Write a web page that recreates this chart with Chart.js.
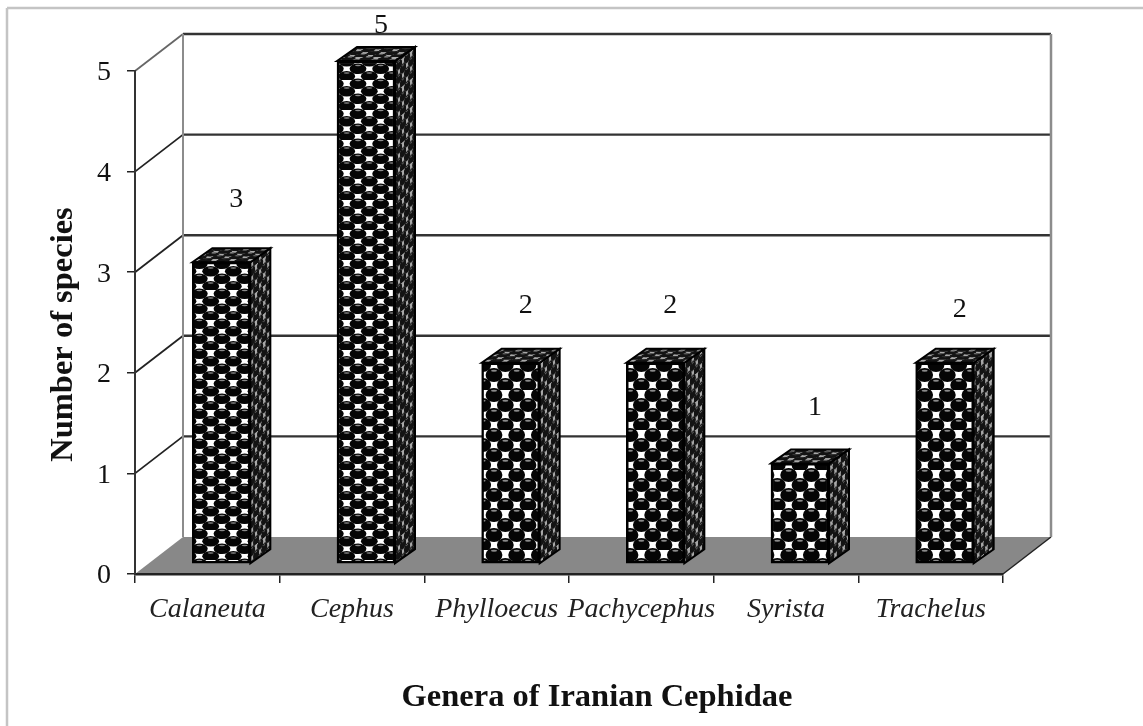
<!DOCTYPE html>
<html>
<head>
<meta charset="utf-8">
<style>
  html, body { margin: 0; padding: 0; background: #fff; }
  #wrap { position: relative; width: 1143px; height: 726px; }
  /* the reference is a soft scan */
  canvas { filter: blur(0.5px); }
</style>
<script src="https://cdn.jsdelivr.net/npm/chart.js@4"></script>
</head>
<body>
<div id="wrap"><canvas id="chart" width="1143" height="726"></canvas></div>
<script>
const GENERA = ["Calaneuta", "Cephus", "Phylloecus", "Pachycephus", "Syrista", "Trachelus"];
const SPECIES = [3, 5, 2, 2, 1, 2];
const Y_TICKS = [0, 1, 2, 3, 4, 5];
const X_TITLE = "Genera of Iranian Cephidae";
const Y_TITLE = "Number of species";

// how far each number floats above its bar
const LABEL_LIFT = [63, 35, 57, 57, 56, 53];

const SERIF = "'Liberation Serif', 'Times New Roman', serif";
const WALL = { dx: 48, dy: -37 };    // back wall offset from the front plane
const BAR_SHIFT = { dx: 14, dy: -10 }; // bars stand in the middle of the floor
const BAR_DEPTH = { dx: 20, dy: -14 };

// ── Bar fill ────────────────────────────────────────────────────────────

// staggered black balls on white, rowH is stretched with the bar like Excel does
function ballPattern(rowH) {
  const colW = 68 / 3;
  const c = document.createElement("canvas");
  c.width = 68;
  c.height = Math.round(rowH * 4);
  const g = c.getContext("2d");
  g.fillStyle = "#fff";
  g.fillRect(0, 0, c.width, c.height);
  const rows = [0, 1, 2, 3, 4];
  rows.forEach(r => {
    for (let i = -1; i < 5; i++) {
      const x = (i + (r % 2 ? 0.5 : 0)) * colW + 4;
      const y = r * c.height / 4 + rowH / 2;
      g.fillStyle = "#050505";
      g.beginPath();
      g.ellipse(x, y, 8.4, rowH * 0.7, 0, 0, Math.PI * 2);
      g.fill();
      g.fillStyle = "#8a8a8a";
      g.beginPath();
      g.ellipse(x, y - rowH * 0.42, 3, rowH * 0.1, 0, 0, Math.PI * 2);
      g.fill();
    }
  });
  return document.getElementById("chart").getContext("2d").createPattern(c, "repeat");
}

const tightBalls = ballPattern(7.5);
const looseBalls = ballPattern(10);
const sideBalls = ballPattern(7);
sideBalls.setTransform(new DOMMatrix([0.36, -0.3, 0, 1, 0, 0]));
const topBalls = ballPattern(7);
topBalls.setTransform(new DOMMatrix([0.8, 0, -0.5, 0.4, 0, 0]));

// ── 3D box drawn from the scales ─────────────────────────────────────────

function line(ctx, x1, y1, x2, y2, color, width) {
  ctx.strokeStyle = color;
  ctx.lineWidth = width;
  ctx.beginPath();
  ctx.moveTo(x1, y1);
  ctx.lineTo(x2, y2);
  ctx.stroke();
}

function poly(ctx, pts, fill, stroke, width) {
  ctx.beginPath();
  pts.forEach((p, i) => i ? ctx.lineTo(p[0], p[1]) : ctx.moveTo(p[0], p[1]));
  ctx.closePath();
  ctx.fillStyle = fill;
  ctx.fill();
  if (stroke) {
    ctx.strokeStyle = stroke;
    ctx.lineWidth = width;
    ctx.stroke();
  }
}

const walls = {
  id: "walls",
  beforeDraw(chart) {
    const { ctx, chartArea: a, scales: { y } } = chart;
    const { dx, dy } = WALL;
    ctx.save();
    // picture frame
    line(ctx, 7, 8, 1143, 8, "#c4c4c4", 2.5);
    line(ctx, 7, 8, 7, 726, "#c4c4c4", 2.5);
    // floor
    poly(ctx, [[a.left, a.bottom], [a.left + dx, a.bottom + dy], [a.right + dx, a.bottom + dy], [a.right, a.bottom]], "#888888");
    line(ctx, a.right, a.bottom, a.right + dx, a.bottom + dy, "#222", 1.5);
    // grid on back and left wall
    Y_TICKS.forEach(v => {
      const py = y.getPixelForValue(v);
      if (v > 0) line(ctx, a.left + dx, py + dy, a.right + dx, py + dy, "#333", 2.4);
      if (v > 0) line(ctx, a.left, py, a.left + dx, py + dy, v === 5 ? "#666" : "#222", 1.8);
    });
    line(ctx, a.left + dx, a.top + dy, a.left + dx, a.bottom + dy, "#8c8c8c", 2);
    line(ctx, a.right + dx, a.top + dy, a.right + dx, a.bottom + dy, "#8c8c8c", 2.5);
    ctx.restore();
  },
  beforeDatasetDraw(chart, args) {
    const { ctx } = chart;
    ctx.save();
    ctx.translate(BAR_SHIFT.dx, BAR_SHIFT.dy);
    const { dx, dy } = BAR_DEPTH;
    args.meta.data.forEach(bar => {
      const l = bar.x - bar.width / 2, r = bar.x + bar.width / 2;
      const t = bar.y, b = bar.base;
      const side = [[r, t], [r + dx, t + dy], [r + dx, b + dy], [r, b]];
      const lid = [[l, t], [l + dx, t + dy], [r + dx, t + dy], [r, t]];
      poly(ctx, side, sideBalls);
      poly(ctx, side, "rgba(40,40,40,0.4)", "#000", 2);
      poly(ctx, lid, topBalls);
      poly(ctx, lid, "rgba(40,40,40,0.4)", "#000", 2);
    });
  },
  afterDatasetDraw(chart) {
    chart.ctx.restore();
  },
  afterDatasetsDraw(chart) {
    const { ctx, scales: { x, y } } = chart;
    ctx.save();
    ctx.fillStyle = "#111";
    ctx.textAlign = "center";
    ctx.textBaseline = "middle";
    ctx.font = "28px " + SERIF;
    chart.getDatasetMeta(0).data.forEach((bar, i) => {
      ctx.fillText(SPECIES[i], bar.x + 29, bar.y + BAR_SHIFT.dy - LABEL_LIFT[i]);
    });
    // axis titles sit off the scale centres in the original
    ctx.font = "bold 32.5px " + SERIF;
    ctx.fillText(X_TITLE, x.getPixelForValue(2.5) + 28, 698);
    ctx.translate(64, y.getPixelForValue(2.5) + 12);
    ctx.rotate(-Math.PI / 2);
    ctx.fillText(Y_TITLE, 0, 0);
    ctx.restore();
  }
};

// ── Chart ────────────────────────────────────────────────────────────────

new Chart(document.getElementById("chart"), {
  type: "bar",
  data: {
    labels: GENERA,
    datasets: [{
      data: SPECIES,
      backgroundColor: SPECIES.map(v => v > 2 ? tightBalls : looseBalls),
      borderColor: "#000",
      borderWidth: 2.5,
      borderSkipped: false,
      barThickness: 58,
      clip: false
    }]
  },
  options: {
    responsive: false,
    animation: false,
    layout: { padding: { top: 71, right: 140, left: 0, bottom: 0 } },
    plugins: { legend: { display: false }, tooltip: { enabled: false } },
    scales: {
      x: {
        afterFit(s) { s.height = 152; },
        grid: { drawOnChartArea: false, tickLength: 9, color: "#222", lineWidth: 1.5 },
        border: { color: "#222", width: 2.5 },
        ticks: { color: "#222", padding: 10, maxRotation: 0, autoSkip: false, font: { family: SERIF, style: "italic", size: 28 } }
      },
      y: {
        min: 0,
        max: 5,
        afterFit(s) { s.width = 135; },
        afterBuildTicks(s) { s.ticks = Y_TICKS.map(value => ({ value })); },
        grid: { drawOnChartArea: false, tickLength: 8, color: "#222", lineWidth: 1.5 },
        border: { color: "#333", width: 2 },
        ticks: { color: "#111", padding: 16, labelOffset: 2, font: { family: SERIF, size: 28 } }
      }
    }
  },
  plugins: [walls]
});
</script>
</body>
</html>
